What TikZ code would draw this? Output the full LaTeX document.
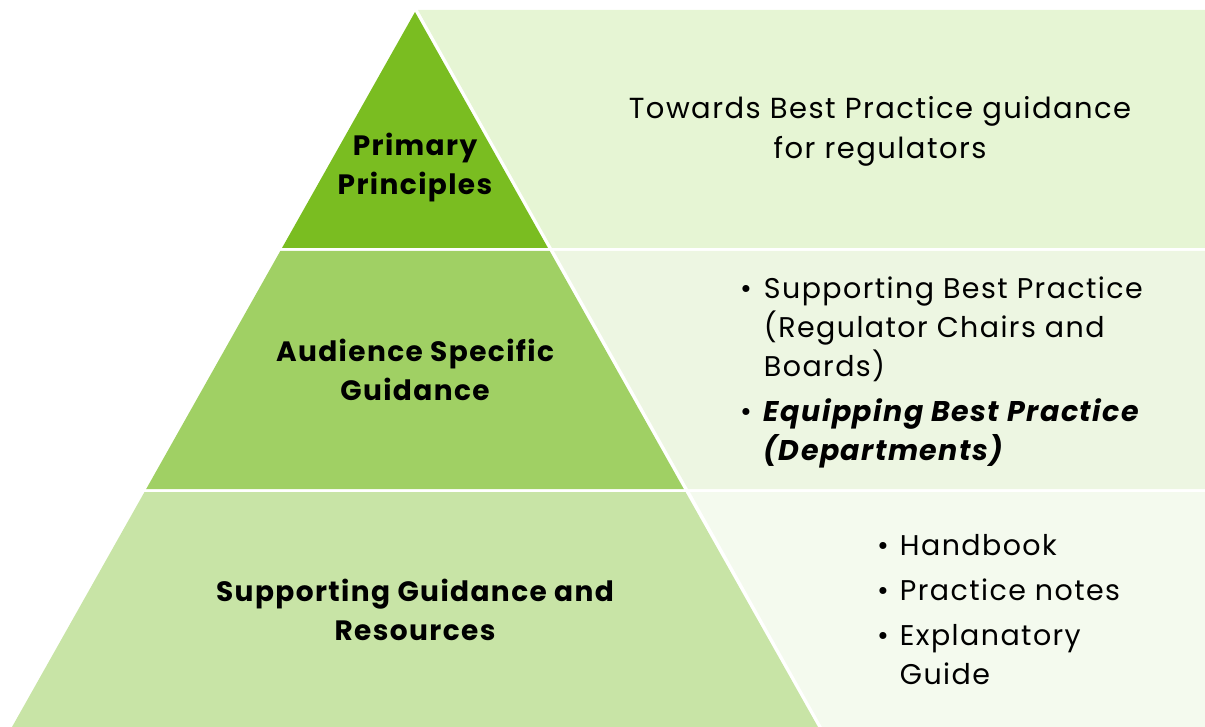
\documentclass[tikz,border=0pt]{standalone}
\usepackage{fontspec}
\setmainfont{Poppins}[LetterSpace=5]
\usetikzlibrary{positioning}

\definecolor{tiertop}{HTML}{7ABD21}
\definecolor{tiermid}{HTML}{A0D064}
\definecolor{tierbot}{HTML}{C8E4A6}
\definecolor{paneltop}{HTML}{E6F5D4}
\definecolor{panelmid}{HTML}{EDF6E2}
\definecolor{panelbot}{HTML}{F4FAEE}

\newcommand{\listgap}{\\[6pt]}

\begin{document}
\begin{tikzpicture}[x=1pt,y=-1pt,
	tierlabel/.style={font=\bfseries\fontsize{28}{39}\selectfont,align=center,inner sep=0pt},
	paneltext/.style={font=\fontsize{29}{40}\selectfont,align=center,inner sep=0pt},
	bulletlist/.style={font=\fontsize{28.5}{39}\selectfont,anchor=north west,inner sep=0pt}]
	\useasboundingbox (0,0) rectangle (1205,727);

	% panels on the right
	\fill[paneltop] (418,10) -- (1205,10) -- (1205,248) -- (552,248) -- cycle;
	\fill[panelmid] (554,251) -- (1205,251) -- (1205,489) -- (688,489) -- cycle;
	\fill[panelbot] (690,492) -- (1205,492) -- (1205,727) -- (822,727) -- cycle;

	% pyramid tiers
	\fill[tiertop] (415,12) -- (548,248) -- (282,248) -- cycle;
	\fill[tiermid] (280.3,251) -- (549.7,251) -- (683.8,489) -- (146.2,489) -- cycle;
	\fill[tierbot] (144.5,492) -- (685.5,492) -- (818,727) -- (12,727) -- cycle;

	% labels
	\node[tierlabel] (primary) at (415,168) {Primary\\Principles};
	\node[tierlabel] (audience) at (415,370) {Audience Specific\\Guidance};
	\node[tierlabel] (support) at (415,610) {Supporting Guidance and\\Resources};

	\node[paneltext] (towards) at (880,131) {Towards Best Practice guidance\\for regulators};

	\node[bulletlist] (audlist) at (740,271) {%
		\begin{tabular}{@{}l@{\hspace{12pt}}l@{}}
			\textbullet & Supporting Best Practice\\
			& (Regulator Chairs and\\
			& Boards)\listgap
			\textbullet & \textbf{\textit{Equipping Best Practice}}\\
			& \textbf{\textit{(Departments)}}
		\end{tabular}};
	\node[bulletlist] (suplist) at (877,528) {%
		\begin{tabular}{@{}l@{\hspace{11pt}}l@{}}
			\textbullet & Handbook\listgap
			\textbullet & Practice notes\listgap
			\textbullet & Explanatory\\
			& Guide
		\end{tabular}};
\end{tikzpicture}
\end{document}
